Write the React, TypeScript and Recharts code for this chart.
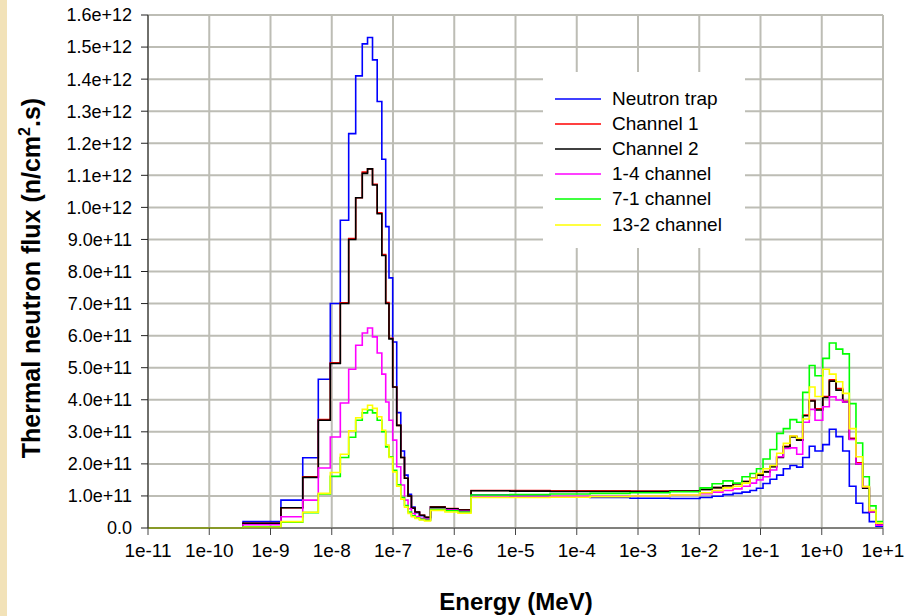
import { LineChart, Line, XAxis, YAxis, CartesianGrid, Legend } from 'recharts'

// group boundaries (MeV); each flux value holds from its lower edge to the next
const energyEdges = [
  1e-11, 3.56e-10, 1.48e-9, 3.36e-9, 6.03e-9, 9.47e-9, 1.38e-8, 1.89e-8, 2.46e-8, 3.15e-8,
  3.84e-8, 4.63e-8, 5.52e-8, 6.57e-8, 7.6e-8, 8.6e-8, 9.89e-8, 1.15e-7, 1.34e-7, 1.54e-7,
  1.76e-7, 2.0e-7, 2.29e-7, 2.71e-7, 3.27e-7, 4.1e-7, 7.06e-7, 1.15e-6, 1.88e-6, 8.13e-6,
  3.66e-5, 1.65e-4, 7.4e-4, 3.33e-3, 1.03e-2, 1.62e-2, 2.44e-2, 3.56e-2, 4.99e-2, 6.74e-2,
  8.6e-2, 0.11, 0.143, 0.184, 0.236, 0.303, 0.39, 0.489, 0.626, 0.776,
  1.04, 1.33, 1.71, 2.2, 2.82, 3.62, 4.66, 5.98, 7.69, 10,
]

// flux in units of 1e11 n/cm2.s
const neutronTrap = [
  0, 0.2, 0.87, 2.19, 4.64, 7.0, 9.6, 12.3, 14.1, 15.1,
  15.3, 14.6, 13.3, 11.5, 9.4, 7.8, 5.8, 3.6, 2.4, 1.65,
  1.05, 0.65, 0.48, 0.38, 0.32, 0.65, 0.6, 0.55, 1.03, 1.0,
  0.97, 0.95, 0.93, 0.92, 0.95, 0.99, 1.04, 1.08, 1.12, 1.17,
  1.24, 1.39, 1.52, 1.65, 1.85, 1.95, 1.9, 2.2, 2.55, 2.4,
  2.6, 3.08, 2.85, 2.4, 1.3, 0.77, 0.48, 0.2, 0.06,
]
const channel1 = [
  0, 0.15, 0.63, 1.6, 3.38, 5.15, 7.02, 9.03, 10.3, 11.1,
  11.2, 10.72, 9.83, 8.53, 7.03, 5.92, 4.4, 3.2, 2.2, 1.55,
  1.0, 0.62, 0.5, 0.4, 0.33, 0.66, 0.61, 0.57, 1.17, 1.17,
  1.16, 1.16, 1.15, 1.15, 1.2, 1.26, 1.32, 1.38, 1.45, 1.55,
  1.66, 1.76, 1.92, 2.22, 2.55, 2.86, 2.76, 3.52, 3.98, 3.72,
  4.1, 4.62, 4.35, 3.95, 2.8, 2.03, 1.27, 0.53, 0.13,
]
const channel2 = [
  0, 0.15, 0.63, 1.58, 3.36, 5.13, 7.0, 9.0, 10.3, 11.06,
  11.2, 10.7, 9.8, 8.5, 7.0, 5.9, 4.4, 3.2, 2.2, 1.55,
  1.0, 0.62, 0.5, 0.4, 0.33, 0.65, 0.6, 0.56, 1.16, 1.15,
  1.14, 1.14, 1.14, 1.15, 1.2, 1.26, 1.32, 1.38, 1.45, 1.55,
  1.65, 1.75, 1.91, 2.2, 2.53, 2.84, 2.74, 3.5, 3.96, 3.68,
  4.07, 4.58, 4.3, 3.93, 2.77, 2.0, 1.24, 0.5, 0.12,
]
const channel14 = [
  0, 0.1, 0.35, 0.87, 1.87, 2.84, 3.9, 4.95, 5.7, 6.08,
  6.24, 5.96, 5.46, 4.8, 3.93, 3.36, 2.74, 1.91, 1.34, 0.87,
  0.6, 0.45, 0.36, 0.3, 0.27, 0.6, 0.56, 0.52, 1.0, 1.0,
  0.99, 0.99, 1.0, 1.02, 1.07, 1.12, 1.17, 1.22, 1.3, 1.4,
  1.5, 1.6, 1.81, 2.22, 2.48, 2.5, 2.3, 3.3, 3.7, 3.36,
  3.78, 4.09, 3.99, 3.93, 2.76, 2.0, 1.29, 0.5, 0.09,
]
const channel71 = [
  0, 0.04, 0.18, 0.48, 1.06, 1.61, 2.2, 2.83, 3.36, 3.59,
  3.68, 3.59, 3.36, 3.0, 2.53, 2.22, 1.8, 1.35, 0.95, 0.7,
  0.5, 0.38, 0.32, 0.27, 0.24, 0.58, 0.54, 0.5, 1.03, 1.04,
  1.06, 1.08, 1.1, 1.13, 1.25, 1.38, 1.47, 1.4, 1.6, 1.7,
  1.85, 2.15, 2.45, 2.95, 3.1, 3.38, 3.3, 4.23, 5.07, 4.75,
  5.29, 5.77, 5.58, 5.43, 3.88, 2.65, 1.6, 0.69, 0.2,
]
const channel132 = [
  0, 0.02, 0.2, 0.49, 1.08, 1.73, 2.3, 3.03, 3.44, 3.7,
  3.83, 3.73, 3.47, 3.05, 2.59, 2.2, 1.75, 1.3, 0.9, 0.65,
  0.45, 0.35, 0.3, 0.25, 0.22, 0.55, 0.5, 0.46, 0.95, 0.95,
  0.96, 0.98, 1.0, 1.03, 1.1, 1.17, 1.25, 1.3, 1.4, 1.55,
  1.7, 1.85, 1.95, 2.33, 2.64, 2.87, 2.8, 3.4, 4.4, 4.1,
  4.95, 4.8, 4.56, 4.2, 3.1, 2.22, 1.29, 0.55, 0.15,
]

const xTicks = [1e-11, 1e-10, 1e-9, 1e-8, 1e-7, 1e-6, 1e-5, 1e-4, 1e-3, 1e-2, 1e-1, 1, 10]
const xTickLabels = [
  '1e-11', '1e-10', '1e-9', '1e-8', '1e-7', '1e-6', '1e-5',
  '1e-4', '1e-3', '1e-2', '1e-1', '1e+0', '1e+1',
]
const yTicks = [0, 1, 2, 3, 4, 5, 6, 7, 8, 9, 10, 11, 12, 13, 14, 15, 16]
const yTickLabels = [
  '0.0', '1.0e+11', '2.0e+11', '3.0e+11', '4.0e+11', '5.0e+11', '6.0e+11', '7.0e+11', '8.0e+11',
  '9.0e+11', '1.0e+12', '1.1e+12', '1.2e+12', '1.3e+12', '1.4e+12', '1.5e+12', '1.6e+12',
]

const series = [
  { key: 'trap', name: 'Neutron trap', color: '#0000ff', values: neutronTrap },
  { key: 'ch1', name: 'Channel 1', color: '#ff0000', values: channel1 },
  { key: 'ch2', name: 'Channel 2', color: '#000000', values: channel2 },
  { key: 'ch14', name: '1-4 channel', color: '#ff00ff', values: channel14 },
  { key: 'ch71', name: '7-1 channel', color: '#00ff00', values: channel71 },
  { key: 'ch132', name: '13-2 channel', color: '#ffff00', values: channel132 },
]

// last edge repeats the last group's value so the final step is drawn
const rows = energyEdges.map((e, i) => {
  const row: Record<string, number> = { e }
  series.forEach((s) => {
    row[s.key] = s.values[Math.min(i, s.values.length - 1)]
  })
  return row
})

const font = '"Liberation Sans", Arial, sans-serif'

// keep the series order (recharts sorts the payload by name)
const LegendBox = () => (
  <div
    style={{
      background: '#fff',
      width: 202,
      height: 176,
      boxSizing: 'border-box',
      paddingLeft: 12,
      paddingTop: 14,
      fontFamily: font,
      fontSize: 19,
      color: '#000',
    }}
  >
    {series.map((s) => (
      <div key={s.key} style={{ display: 'flex', alignItems: 'center', height: 25.2 }}>
        <svg width={46} height={4}>
          <line x1={0} y1={2} x2={46} y2={2} stroke={s.color} strokeWidth={1.5} />
        </svg>
        <span style={{ marginLeft: 11, whiteSpace: 'nowrap' }}>{s.name}</span>
      </div>
    ))}
  </div>
)

export default function App() {
  return (
    <div style={{ position: 'absolute', left: 0, top: 0, width: 905, height: 616, background: '#fff' }}>
      <div style={{ position: 'absolute', left: 0, top: 0, width: 7, height: 616, background: '#f2e2b8' }} />
      <LineChart
        width={905}
        height={616}
        data={rows}
        margin={{ top: 15, right: 22, bottom: 38, left: 58 }}
      >
        <CartesianGrid stroke="#bdbdb5" strokeWidth={2} />
        <XAxis
          dataKey="e"
          type="number"
          scale="log"
          domain={[1e-11, 10]}
          ticks={xTicks}
          interval={0}
          allowDataOverflow
          height={50}
          tickSize={7}
          tickMargin={9}
          tickFormatter={(v: number, i: number) => xTickLabels[i]}
          stroke="#444"
          tick={{ fill: '#000', fontSize: 19, fontFamily: font }}
        />
        <YAxis
          type="number"
          domain={[0, 16]}
          ticks={yTicks}
          interval={0}
          width={90}
          tickSize={7}
          tickMargin={9}
          tickFormatter={(v: number, i: number) => yTickLabels[i]}
          stroke="#222"
          tick={{ fill: '#000', fontSize: 18, fontFamily: font }}
        />
        <Legend
          layout="vertical"
          align="center"
          verticalAlign="middle"
          wrapperStyle={{ left: 543, top: 72, width: 202, height: 176 }}
          content={<LegendBox />}
        />
        {series.map((s) => (
          <Line
            key={s.key}
            type="stepAfter"
            dataKey={s.key}
            name={s.name}
            stroke={s.color}
            strokeWidth={1.6}
            dot={false}
            isAnimationActive={false}
          />
        ))}
      </LineChart>
      <div
        style={{
          position: 'absolute',
          left: 516,
          top: 602,
          transform: 'translate(-50%, -50%)',
          fontFamily: font,
          fontWeight: 'bold',
          fontSize: 24,
          whiteSpace: 'nowrap',
        }}
      >
        Energy (MeV)
      </div>
      <div
        style={{
          position: 'absolute',
          left: 31,
          top: 278,
          transform: 'translate(-50%, -50%) rotate(-90deg)',
          fontFamily: font,
          fontWeight: 'bold',
          fontSize: 25,
          whiteSpace: 'nowrap',
        }}
      >
        Thermal neutron flux (n/cm<sup style={{ fontSize: 16 }}>2</sup>.s)
      </div>
    </div>
  )
}
